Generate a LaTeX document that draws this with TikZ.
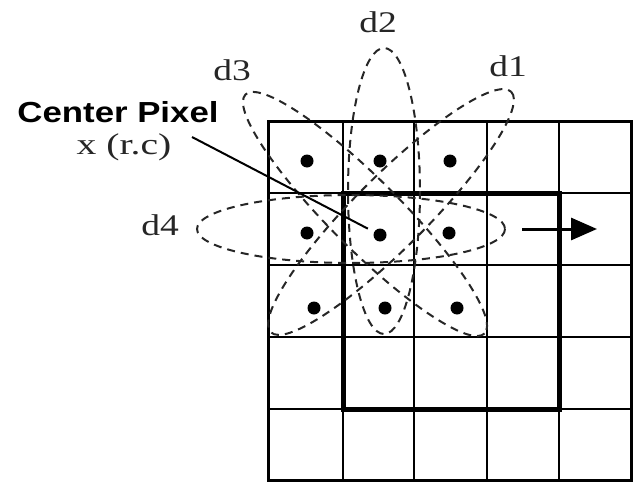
\documentclass[tikz,border=0pt]{standalone}
\usepackage{fontspec}
\setmainfont{Liberation Serif}
\newfontfamily\labsans{Liberation Sans}
\usetikzlibrary{arrows.meta}
\begin{document}
\begin{tikzpicture}[x=1pt,y=-1pt,
  gridline/.style={line width=2pt},
  outerline/.style={line width=3pt},
  thickbox/.style={line width=5pt},
  direll/.style={dash pattern=on 8pt off 6pt, line width=2pt, black!85},
  pix/.style={circle, fill=black, inner sep=0pt, minimum size=13pt},
  dlab/.style={font=\fontsize{30}{31}\selectfont, xscale=1.25, anchor=base, inner sep=0pt, black!85},
  leader/.style={line width=2pt}]
\useasboundingbox (0,0) rectangle (634,487);
% grid
\foreach \x in {343,414,487,559} \draw[gridline] (\x,121) -- (\x,480);
\foreach \y in {193,265,337,409} \draw[gridline] (268,\y) -- (631,\y);
\draw[outerline] (268,121) rectangle (631,480);
\draw[thickbox] (343,193) rectangle (559,409);
% pixels
\node[pix] (p11) at (307,161) {};
\node[pix] (p12) at (380,161) {};
\node[pix] (p13) at (450,161) {};
\node[pix] (p21) at (307,233) {};
\node[pix] (p22) at (380,235) {};
\node[pix] (p23) at (449,233) {};
\node[pix] (p31) at (314,308) {};
\node[pix] (p32) at (385,308) {};
\node[pix] (p33) at (457,308) {};
% direction ellipses
\draw[direll] (384,191) ellipse [x radius=36, y radius=143];
\draw[direll] (351,229) ellipse [x radius=154, y radius=34];
\draw[direll, rotate around={45:(391,212)}] (391,212) ellipse [x radius=170, y radius=36];
\draw[direll, rotate around={-45:(365,214)}] (365,214) ellipse [x radius=169, y radius=35];
% labels
\node[dlab] (d1) at (508,77) {d1};
\node[dlab] (d2) at (378,33) {d2};
\node[dlab] (d3) at (232,80) {d3};
\node[dlab] (d4) at (160,235) {d4};
\node[font=\labsans\bfseries\fontsize{29}{30}\selectfont, xscale=1.2, anchor=base, inner sep=0pt] (cp) at (118,122) {Center Pixel};
\node[font=\fontsize{30}{31}\selectfont, xscale=1.32, anchor=base, inner sep=0pt, black!85] (xrc) at (124,154) {x (r.c)};
% leader
\coordinate (ls) at (192,137);
\draw[leader, shorten >=7pt] (ls) -- (p22);
% arrow
\coordinate (as) at (522,229);
\coordinate (ae) at (597,229);
\draw[line width=3pt, -{Triangle[length=26pt,width=22pt]}] (as) -- (ae);
\end{tikzpicture}
\end{document}
